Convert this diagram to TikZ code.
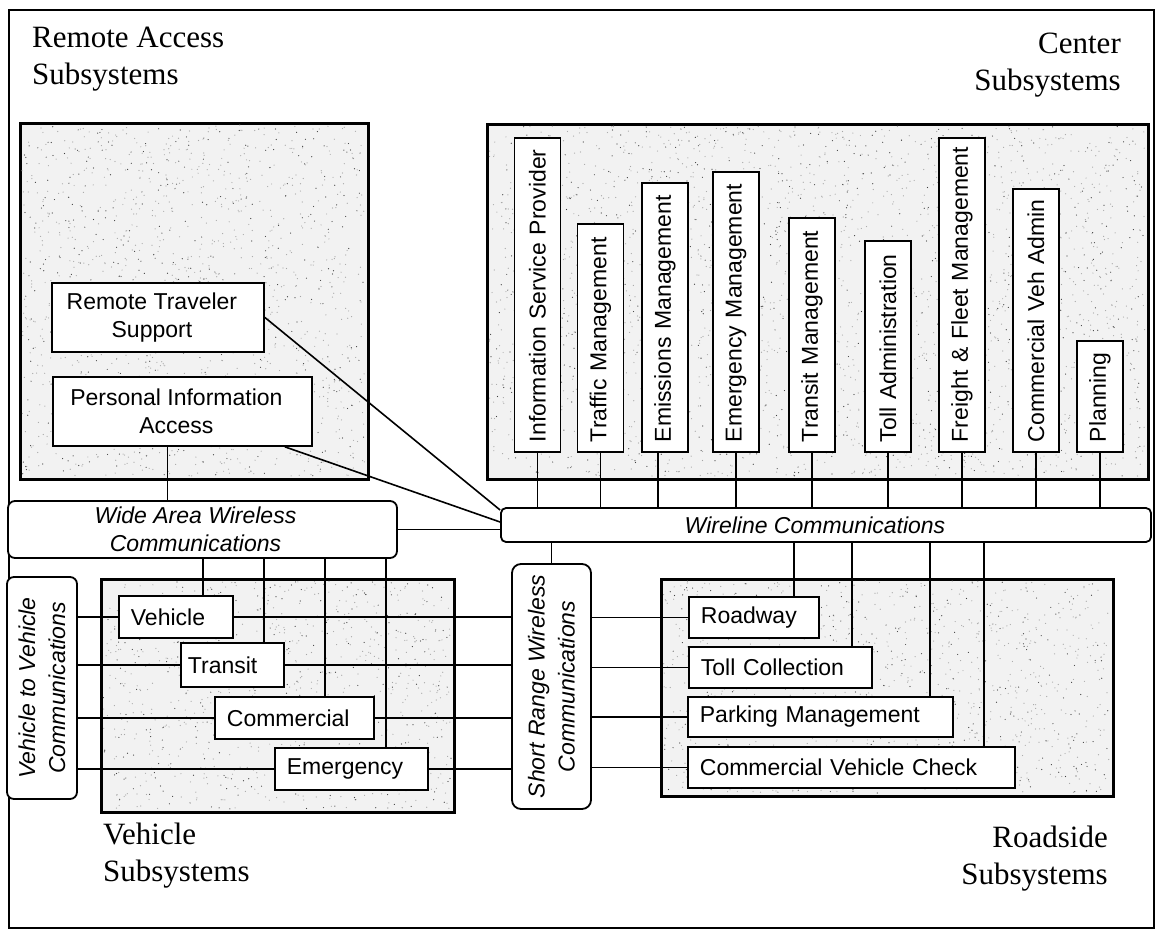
\documentclass[tikz,border=0pt]{standalone}
\usepackage{fontspec}
\setmainfont{Liberation Serif}
\newfontfamily\arialfont{Liberation Sans}

% random speckles over a rectangular area: x0, y0, width, height, count, style
\newcommand\speckle[6]{%
  \foreach \k in {1,...,#5}{%
    \pgfmathsetmacro\sx{#1+#3*rnd}%
    \pgfmathsetmacro\sy{#2+#4*rnd}%
    \fill[#6] (\sx,\sy) circle[radius=0.6pt];}}

\tikzset{
  grp/.style={draw, line width=1.8pt, fill=black!5, anchor=north west, inner sep=0pt},
  lightspeck/.style={black!35},
  darkspeck/.style={black!75},
  unit/.style={draw, line width=1.8pt, fill=white, inner sep=0pt,
    font=\arialfont\fontsize{23}{28}\selectfont},
  hunit/.style={unit, anchor=north west, align=left, inner xsep=12pt},
  vunit/.style={unit, rotate=90, anchor=west, align=left, inner xsep=10pt,
    minimum height=46pt},
  comm/.style={draw, line width=1.8pt, fill=white, rounded corners=7pt, inner sep=0pt,
    align=center, font=\arialfont\itshape\fontsize{23}{28}\selectfont},
  vcomm/.style={comm, rotate=90, font=\arialfont\itshape\fontsize{23}{30}\selectfont},
  link/.style={line width=1.6pt},
  heading/.style={inner sep=0pt, font=\fontsize{31}{37}\selectfont},
}

\begin{document}
\begin{tikzpicture}[x=1pt, y=-1pt]
\useasboundingbox (0,0) rectangle (1162,935);
\fill[white] (0,0) rectangle (1162,935);
\pgfmathsetseed{7}

% outer frame
\draw[line width=1.8pt] (9,10) rectangle (1154,928);

% subsystem groups with speckled background
\node[grp, minimum width=347pt, minimum height=355pt] (ra) at (20,123) {};
\node[grp, minimum width=660pt, minimum height=354pt] (cs) at (487,124) {};
\node[grp, minimum width=352pt, minimum height=232pt] (vs) at (101,579) {};
\node[grp, minimum width=451pt, minimum height=216pt] (rs) at (661,579) {};
\speckle{22}{125}{343}{351}{1100}{lightspeck}
\speckle{22}{125}{343}{351}{450}{darkspeck}
\speckle{489}{126}{656}{350}{2100}{lightspeck}
\speckle{489}{126}{656}{350}{850}{darkspeck}
\speckle{103}{581}{348}{228}{700}{lightspeck}
\speckle{103}{581}{348}{228}{290}{darkspeck}
\speckle{663}{581}{447}{212}{850}{lightspeck}
\speckle{663}{581}{447}{212}{340}{darkspeck}
\draw[line width=1.8pt] (ra.north west) rectangle (ra.south east);
\draw[line width=1.8pt] (cs.north west) rectangle (cs.south east);
\draw[line width=1.8pt] (vs.north west) rectangle (vs.south east);
\draw[line width=1.8pt] (rs.north west) rectangle (rs.south east);

% group headings
\node[heading, anchor=north west, align=left] (rah) at (32,27) {Remote Access\\Subsystems};
\node[heading, anchor=north east, align=right] (csh) at (1121,33) {Center\\Subsystems};
\node[heading, anchor=north west, align=left] (vsh) at (103,823) {Vehicle\\Subsystems};
\node[heading, anchor=north east, align=right] (rsh) at (1108,826) {Roadside\\Subsystems};

% remote access subsystems
\node[unit, anchor=north west, align=center, minimum width=212pt, minimum height=69pt] (rts) at (51,282) {\hspace*{-12pt}Remote Traveler\\\hspace*{-12pt}Support};
\node[unit, anchor=north west, align=center, minimum width=259pt, minimum height=69pt] (pia) at (52,376) {\hspace*{-12pt}Personal Information\\\hspace*{-12pt}Access};

% center subsystems
\node[vunit, minimum width=314pt, text width=294pt] (isp) at (537.5,453) {\mbox{Information Service Provider}};
\node[vunit, minimum width=228pt, text width=208pt] (tm)  at (600.5,453) {\mbox{Traffic Management}};
\node[vunit, minimum width=269pt, text width=249pt] (em)  at (665,453) {\mbox{Emissions Management}};
\node[vunit, minimum width=280pt, text width=260pt] (emm) at (736,453) {\mbox{Emergency Management}};
\node[vunit, minimum width=234pt, text width=214pt] (trm) at (812,453) {\mbox{Transit Management}};
\node[vunit, minimum width=211pt, text width=191pt] (ta)  at (888,453) {\mbox{Toll Administration}};
\node[vunit, minimum width=314pt, text width=294pt] (ffm) at (962,453) {\mbox{Freight \& Fleet Management}};
\node[vunit, minimum width=263pt, text width=243pt] (cva) at (1036,453) {\mbox{Commercial Veh Admin}};
\node[vunit, minimum width=111pt, text width=91pt]  (pln) at (1100,453) {\mbox{Planning}};

% vehicle subsystems
\node[hunit, text width=90pt,  minimum height=42pt] (veh) at (118,595) {Vehicle};
\node[hunit, inner xsep=7pt, text width=89pt, minimum height=44pt] (tr) at (180,642) {Transit};
\node[hunit, text width=135pt, minimum height=42pt] (com) at (214,696) {Commercial};
\node[hunit, text width=129pt, minimum height=42pt] (emg) at (274,747) {Emergency};

% roadside subsystems
\node[hunit, text width=106pt, minimum height=41pt] (road) at (688,596) {Roadway};
\node[hunit, text width=159pt, minimum height=41pt] (toll) at (688,646) {Toll Collection};
\node[hunit, text width=241pt, minimum height=40pt] (park) at (687,696) {Parking Management};
\node[hunit, text width=303pt, minimum height=41pt] (cvc)  at (687,746) {Commercial Vehicle Check};

% communication media
\node[comm, minimum width=389pt, minimum height=57pt] (wa) at (202.5,529.5) {\hspace*{-14pt}Wide Area Wireless\\\hspace*{-14pt}Communications};
\node[comm, rounded corners=5pt, minimum width=650pt, minimum height=34pt] (wl) at (826,525) {\hspace*{-22pt}Wireline Communications};
\node[vcomm, minimum width=222pt, minimum height=70pt] (v2v) at (42,688) {Vehicle to Vehicle\\Communications};
\node[vcomm, rounded corners=9pt, minimum width=245pt, minimum height=79pt] (srw) at (551.5,686.5) {Short Range Wireless\\Communications};

% center subsystems to wireline
\foreach \n in {isp,tm,emm,trm,ta,ffm,cva,pln}
  \draw[link] (\n.west) -- (\n.west |- wl.north);
\draw[link] ([xshift=-7pt]em.west) -- ([xshift=-7pt]em.west |- wl.north);

% remote access links
\draw[link] (rts.east) -- ([yshift=15pt]wl.west);
\draw[link] ([xshift=-28pt]pia.south east) -- ([yshift=3pt]wl.west);
\draw[link] ([xshift=-15pt]pia.south) -- ([xshift=-15pt]pia.south |- wa.north);
\draw[link] (wa.east) -- (wa.east -| wl.west);

% wide area wireless to vehicles
\draw[link] ([xshift=27pt]veh.north) -- ([xshift=27pt]veh.north |- wa.south);
\draw[link] ([xshift=31.5pt]tr.north) -- ([xshift=31.5pt]tr.north |- wa.south);
\draw[link] ([xshift=30.5pt]com.north) -- ([xshift=30.5pt]com.north |- wa.south);
\draw[link] ([xshift=34.5pt]emg.north) -- ([xshift=34.5pt]emg.north |- wa.south);

% vehicle to vehicle and short range links
\foreach \n in {veh,tr,com,emg} {
  \draw[link] (\n.west) -- (\n.west -| v2v.south);
  \draw[link] (\n.east) -- (\n.east -| srw.north);
}
\foreach \n in {road,toll,park,cvc}
  \draw[link] (srw.south |- \n.west) -- (\n.west);

% wireline to roadside
\draw[link] (srw.east) -- (srw.east |- wl.south);
\draw[link] ([xshift=40pt]road.north) -- ([xshift=40pt]road.north |- wl.south);
\draw[link] ([xshift=-21pt]toll.north east) -- ([xshift=-21pt]toll.north east |- wl.south);
\draw[link] ([xshift=-24pt]park.north east) -- ([xshift=-24pt]park.north east |- wl.south);
\draw[link] ([xshift=-32pt]cvc.north east) -- ([xshift=-32pt]cvc.north east |- wl.south);
\end{tikzpicture}
\end{document}
